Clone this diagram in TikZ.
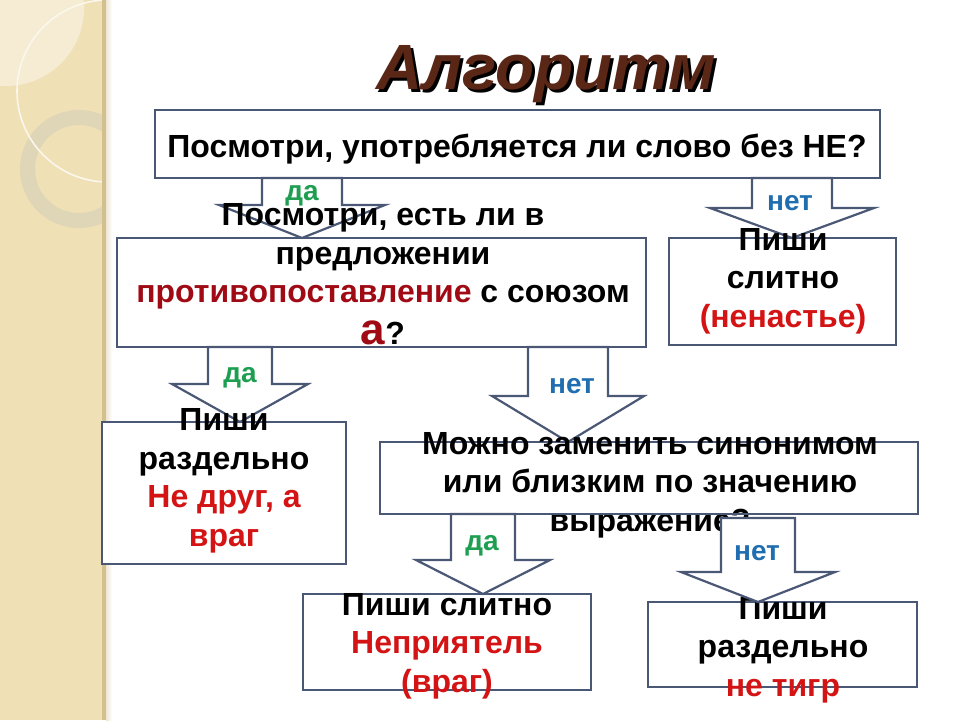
\documentclass[tikz,border=0pt]{standalone}
\usepackage{fontspec}
\setmainfont{Liberation Sans}
\usetikzlibrary{calc}
\definecolor{boxline}{HTML}{4A5876}
\definecolor{dagreen}{HTML}{1E9E50}
\definecolor{netblue}{HTML}{1F6EB0}
\definecolor{darkred}{HTML}{A00A14}
\definecolor{brightred}{HTML}{D41414}
\definecolor{titlebrown}{HTML}{5A2616}
\definecolor{strip}{HTML}{EFE0B6}
\definecolor{stripedge}{HTML}{D3C08F}
\definecolor{ringcol}{HTML}{DED4B8}
\newcommand\blockarrow[7]{%
  \draw[arrowbox] let \p1=(#1.south), \p2=(#2.north), \p3=(#3,#6), \p4=(#4,0), \p5=(#5,0), \p6=(0,#7) in
    (\x3-\x4,\y1+\y6) -- (\x3-\x4,\y3) -- (\x3-\x5,\y3) -- (\x3,\y2) -- (\x3+\x5,\y3)
    -- (\x3+\x4,\y3) -- (\x3+\x4,\y1+\y6) -- cycle;}
\begin{document}
\begin{tikzpicture}[x=1pt,y=-1pt,
  box/.style={draw=boxline, line width=2.5pt, fill=white, rectangle, inner sep=0pt, outer sep=0pt},
  arrowbox/.style={draw=boxline, line width=2.2pt, fill=white, line join=miter},
  txt/.style={font=\fontsize{32}{38.5}\selectfont\bfseries, align=center, inner sep=0pt},
  lab/.style={font=\fontsize{28}{30}\selectfont\bfseries, inner sep=0pt},
  ttl/.style={font=\fontsize{64}{66}\selectfont\bfseries\itshape, inner sep=0pt}]
\useasboundingbox (0,0) rectangle (960,720);
\fill[white] (0,0) rectangle (960,720);
% decorative strip
\fill[strip] (0,0) rectangle (104,720);
\begin{scope}
  \clip (0,0) rectangle (104,720);
  \fill[white, opacity=0.4] (6,8) circle [radius=78pt];
  \draw[ringcol, line width=15pt, opacity=0.9] (79,169) circle [radius=51.5pt];
  \draw[white!75!strip, line width=1.6pt] (108,91) circle [radius=91pt];
\end{scope}
\fill[stripedge] (102,0) rectangle (106,720);
\shade[left color=stripedge!40!white, right color=white] (106,0) rectangle (112,720);
% title
\node[ttl, text=black] (titleshadow) at (549,77) {Алгоритм};
\node[ttl, text=titlebrown] (title) at (546,74) {Алгоритм};
% boxes
\node[box, minimum width=725pt, minimum height=68pt] (b1) at (517.5,144) {};
\node[box, minimum width=529pt, minimum height=109pt] (b2) at (381.5,292.5) {};
\node[box, minimum width=227pt, minimum height=107pt] (b3) at (782.5,291.5) {};
\node[box, minimum width=244pt, minimum height=142pt] (b4) at (224,493) {};
\node[box, minimum width=538pt, minimum height=72pt] (b5) at (649,478) {};
\node[box, minimum width=288pt, minimum height=96pt] (b6) at (447,642) {};
\node[box, minimum width=269pt, minimum height=85pt] (b7) at (782.5,644.5) {};
% block arrows
\blockarrow{b1}{b2}{302}{40}{83}{205}{0}
\blockarrow{b1}{b3}{792}{40}{82}{208}{0}
\blockarrow{b2}{b4}{240}{32}{68}{384}{0}
\blockarrow{b2}{b5}{568}{40}{76}{396}{0}
\blockarrow{b5}{b6}{483}{32}{67}{560}{0}
% labels
\node[lab, text=dagreen] (l1) at (302,196) {да};
\node[lab, text=netblue] (l2) at (790,203) {нет};
\node[lab, text=dagreen] (l3) at (240,378) {да};
\node[lab, text=netblue] (l4) at (572,386) {нет};
\node[lab, text=dagreen] (l5) at (482,546) {да};
% texts
\node[txt] (t1) at (517,149) {Посмотри, употребляется ли слово без НЕ?};
\node[txt] (t2) at (383,274) {Посмотри, есть ли в\\ предложении\\ \textcolor{darkred}{противопоставление} с союзом\\[3pt] \textcolor{darkred}{\fontsize{44}{44}\selectfont а}?};
\node[txt] (t3) at (783,281) {Пиши\\ слитно\\ \textcolor{brightred}{(ненастье)}};
\node[txt] (t4) at (224,481) {Пиши\\ раздельно\\ \textcolor{brightred}{Не друг, а}\\ \textcolor{brightred}{враг}};
\node[txt] (t5) at (650,485) {Можно заменить синонимом\\ или близким по значению\\ выражение?};
\node[txt] (t6) at (447,646) {Пиши слитно\\ \textcolor{brightred}{Неприятель}\\ \textcolor{brightred}{(враг)}};
\node[txt] (t7) at (783,650) {Пиши\\ раздельно\\ \textcolor{brightred}{не тигр}};
% box 5 bottom edge runs over its text; the last arrow covers the text
\draw[boxline, line width=2.5pt] (b5.south west) -- (b5.south east);
\blockarrow{b5}{b7}{758}{37}{77}{572}{4}
\node[lab, text=netblue] (l6) at (757,553) {нет};
\end{tikzpicture}
\end{document}
